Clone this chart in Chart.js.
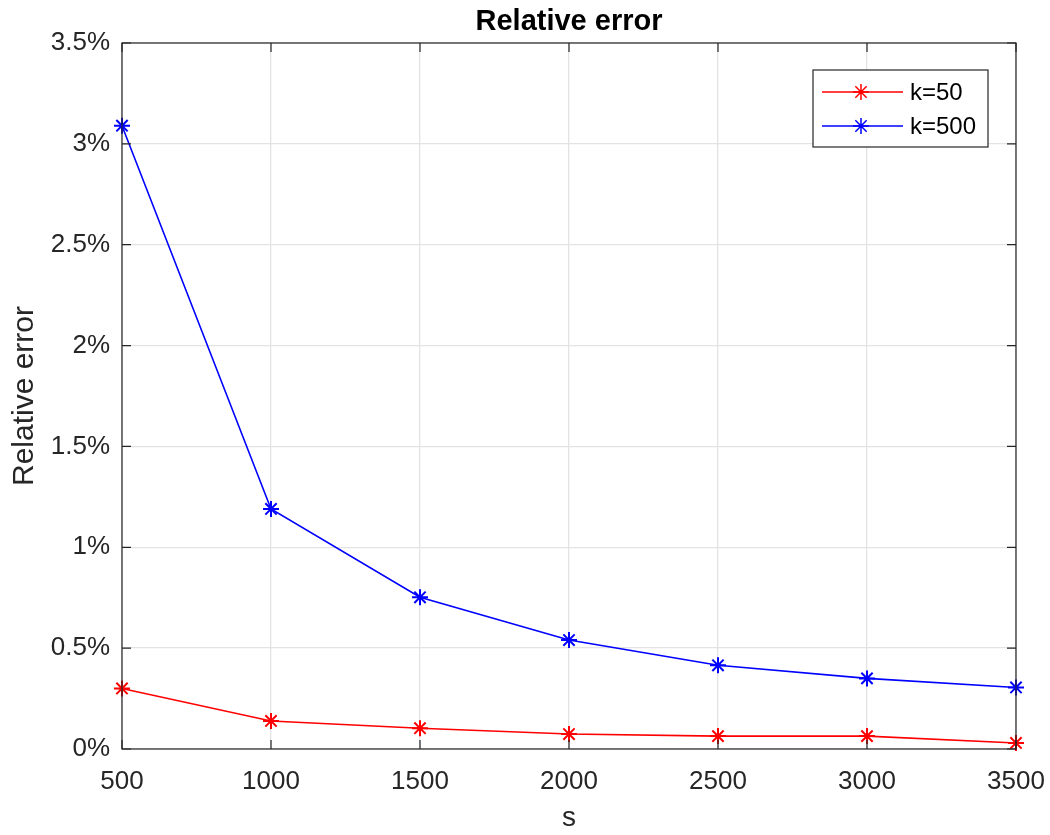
<!DOCTYPE html>
<html>
<head>
<meta charset="utf-8">
<script src="https://cdn.jsdelivr.net/npm/chart.js@4"></script>
<style>
  html, body { margin: 0; padding: 0; background: #fff; }
  #wrap { width: 1050px; height: 835px; }
</style>
</head>
<body>
<div id="wrap"><canvas id="chart" width="1050" height="835"></canvas></div>
<script>
// Data (relative error in %)
const sizes = [500, 1000, 1500, 2000, 2500, 3000, 3500];
const errK50 = [0.30, 0.139, 0.103, 0.074, 0.064, 0.064, 0.03];
const errK500 = [3.09, 1.19, 0.752, 0.54, 0.415, 0.35, 0.305];
const seriesNames = ['k=50', 'k=500'];
const seriesColors = ['#ff0000', '#0000ff'];
const chartTitle = 'Relative error';

const FONT = '"Liberation Sans", Arial, Helvetica, sans-serif';
const AXIS_COLOR = '#262626';

// Title, box, inward ticks and legend (MATLAB look)
const boxPlugin = {
    id: 'box',
    afterDraw(chart) {
        const ctx = chart.ctx;
        const a = chart.chartArea;
        const xs = chart.scales.x;
        const ys = chart.scales.y;
        ctx.save();

        // title centred over the plot area
        ctx.fillStyle = '#000';
        ctx.font = 'bold 29px ' + FONT;
        ctx.textAlign = 'center';
        ctx.textBaseline = 'alphabetic';
        ctx.fillText(chartTitle, (a.left + a.right) / 2, 30);

        ctx.strokeStyle = AXIS_COLOR;
        ctx.lineWidth = 1.2;
        ctx.strokeRect(a.left, a.top, a.right - a.left, a.bottom - a.top);

        const tl = 9;
        ctx.beginPath();
        xs.ticks.forEach(t => {
            const px = xs.getPixelForValue(t.value);
            ctx.moveTo(px, a.bottom); ctx.lineTo(px, a.bottom - tl);
            ctx.moveTo(px, a.top); ctx.lineTo(px, a.top + tl);
        });
        ys.ticks.forEach(t => {
            const py = ys.getPixelForValue(t.value);
            ctx.moveTo(a.left, py); ctx.lineTo(a.left + tl, py);
            ctx.moveTo(a.right, py); ctx.lineTo(a.right - tl, py);
        });
        ctx.stroke();

        // legend
        const lx = 813, ly = 70, lw = 175, lh = 77;
        ctx.fillStyle = '#fff';
        ctx.fillRect(lx, ly, lw, lh);
        ctx.strokeStyle = AXIS_COLOR;
        ctx.lineWidth = 1.2;
        ctx.strokeRect(lx, ly, lw, lh);
        ctx.font = '24px ' + FONT;
        ctx.textAlign = 'left';
        ctx.textBaseline = 'middle';
        seriesNames.forEach((name, i) => {
            const y = ly + 22 + i * 34;
            ctx.strokeStyle = seriesColors[i];
            ctx.lineWidth = 1.5;
            ctx.beginPath();
            ctx.moveTo(lx + 9, y); ctx.lineTo(lx + 90, y);
            ctx.stroke();
            Chart.helpers.drawPoint(ctx, { pointStyle: 'star', radius: 8, borderWidth: 2 }, lx + 48, y);
            ctx.fillStyle = '#000';
            ctx.fillText(name, lx + 97, y + 1);
        });
        ctx.restore();
    }
};

const datasets = [errK50, errK500].map((vals, i) => ({
    label: seriesNames[i],
    data: sizes.map((s, j) => ({ x: s, y: vals[j] })),
    borderColor: seriesColors[i],
    backgroundColor: seriesColors[i],
    borderWidth: 1.6,
    pointStyle: 'star',
    pointRadius: 8,
    pointBorderWidth: 2,
    tension: 0,
    clip: false
}));

new Chart(document.getElementById('chart'), {
    type: 'line',
    data: { datasets },
    options: {
        responsive: false,
        animation: false,
        layout: { padding: { left: 0, right: 34, top: 43, bottom: 0 } },
        plugins: {
            legend: { display: false },
            tooltip: { enabled: false },
            title: { display: false }
        },
        scales: {
            x: {
                type: 'linear',
                min: 500, max: 3500,
                afterFit: s => {
                    s.height = 86;
                    s.paddingLeft = 0;
                    s.paddingRight = 0;
                },
                ticks: {
                    stepSize: 500,
                    color: AXIS_COLOR,
                    padding: 17,
                    font: { family: FONT, size: 26 },
                    callback: v => String(v)
                },
                grid: { color: '#e3e3e3', lineWidth: 1.3, drawTicks: false },
                border: { display: false },
                title: {
                    display: true,
                    text: 's',
                    color: AXIS_COLOR,
                    font: { family: FONT, size: 28 },
                    padding: { top: 4, bottom: 0 }
                }
            },
            y: {
                min: 0, max: 3.5,
                afterFit: s => { s.width = 122; },
                ticks: {
                    stepSize: 0.5,
                    color: AXIS_COLOR,
                    padding: 12,
                    font: { family: FONT, size: 26 },
                    callback: v => Number(v.toFixed(1)) + '%'
                },
                grid: { color: '#e3e3e3', lineWidth: 1.3, drawTicks: false },
                border: { display: false },
                title: {
                    display: true,
                    text: 'Relative error',
                    color: AXIS_COLOR,
                    font: { family: FONT, size: 30 },
                    padding: { top: 7, bottom: 0 }
                }
            }
        }
    },
    plugins: [boxPlugin]
});
</script>
</body>
</html>
